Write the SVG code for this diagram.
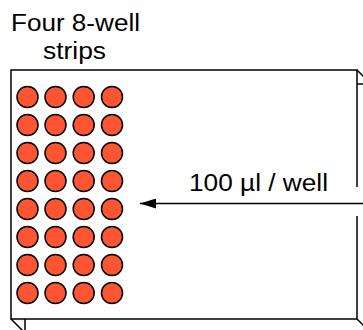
<svg xmlns="http://www.w3.org/2000/svg" width="363" height="330" viewBox="0 0 363 330">
<style>
.t{font-family:"Liberation Sans",Arial,sans-serif;font-size:23px;fill:#000}
.well{fill:#FF5533;stroke:#000;stroke-width:1.5}
.edge{fill:none;stroke:#000;stroke-width:1.5}
</style>
<defs>
<marker id="ah" markerWidth="16" markerHeight="10" refX="16" refY="5" orient="auto" markerUnits="userSpaceOnUse">
<path d="M0,0 L16,5 L0,10 Z" fill="#000"/>
</marker>
</defs>
<rect width="363" height="330" fill="#fff"/>
<g id="plate">
<path class="edge" d="M357,70 L371,84 M357,84 L371,84 M11,319 L25,333 M25,319 L25,333 M357,319 L371,333"/>
<rect x="11" y="70" width="346" height="249" fill="#fff" stroke="none"/>
<path class="edge" d="M357,187 L357,70 L11,70 L11,319 L357,319 L357,216"/>
</g>
<g id="wells">
<g id="row1"><circle class="well" cx="27.5" cy="97" r="10.5"/><circle class="well" cx="55.5" cy="97" r="10.5"/><circle class="well" cx="83.7" cy="97" r="10.5"/><circle class="well" cx="112" cy="97" r="10.5"/></g>
<g id="row2"><circle class="well" cx="27.5" cy="125" r="10.5"/><circle class="well" cx="55.5" cy="125" r="10.5"/><circle class="well" cx="83.7" cy="125" r="10.5"/><circle class="well" cx="112" cy="125" r="10.5"/></g>
<g id="row3"><circle class="well" cx="27.5" cy="153" r="10.5"/><circle class="well" cx="55.5" cy="153" r="10.5"/><circle class="well" cx="83.7" cy="153" r="10.5"/><circle class="well" cx="112" cy="153" r="10.5"/></g>
<g id="row4"><circle class="well" cx="27.5" cy="181" r="10.5"/><circle class="well" cx="55.5" cy="181" r="10.5"/><circle class="well" cx="83.7" cy="181" r="10.5"/><circle class="well" cx="112" cy="181" r="10.5"/></g>
<g id="row5"><circle class="well" cx="27.5" cy="209" r="10.5"/><circle class="well" cx="55.5" cy="209" r="10.5"/><circle class="well" cx="83.7" cy="209" r="10.5"/><circle class="well" cx="112" cy="209" r="10.5"/></g>
<g id="row6"><circle class="well" cx="27.5" cy="237" r="10.5"/><circle class="well" cx="55.5" cy="237" r="10.5"/><circle class="well" cx="83.7" cy="237" r="10.5"/><circle class="well" cx="112" cy="237" r="10.5"/></g>
<g id="row7"><circle class="well" cx="27.5" cy="265" r="10.5"/><circle class="well" cx="55.5" cy="265" r="10.5"/><circle class="well" cx="83.7" cy="265" r="10.5"/><circle class="well" cx="112" cy="265" r="10.5"/></g>
<g id="row8"><circle class="well" cx="27.5" cy="293" r="10.5"/><circle class="well" cx="55.5" cy="293" r="10.5"/><circle class="well" cx="83.7" cy="293" r="10.5"/><circle class="well" cx="112" cy="293" r="10.5"/></g>
</g>
<g id="title">
<text class="t" x="11" y="31" textLength="129" lengthAdjust="spacingAndGlyphs">Four 8-well</text>
<text class="t" x="43" y="59" textLength="63" lengthAdjust="spacingAndGlyphs">strips</text>
</g>
<g id="label">
<text class="t" x="189" y="191" textLength="139" lengthAdjust="spacingAndGlyphs">100 µl / well</text>
</g>
<g id="connectors">
<line x1="365" y1="203.5" x2="140" y2="203.5" stroke="#000" stroke-width="1.5" marker-end="url(#ah)"/>
</g>
</svg>
